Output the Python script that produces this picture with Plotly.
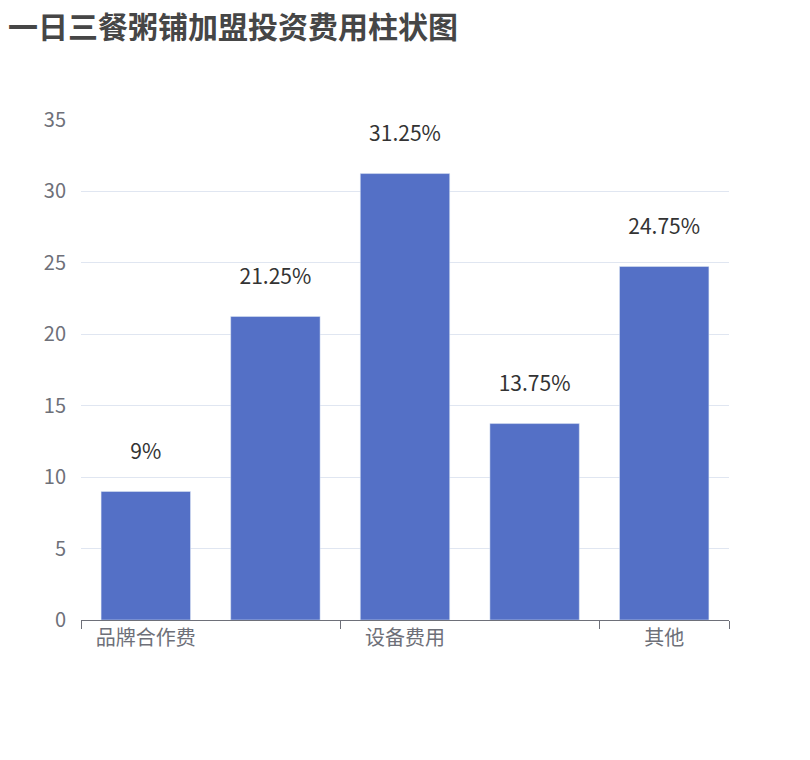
import plotly.graph_objects as go

categories = ["品牌合作费", "店面租金", "设备费用", "装修费用", "其他"]
values = [9, 21.25, 31.25, 13.75, 24.75]
labels = ["9%", "21.25%", "31.25%", "13.75%", "24.75%"]
shown_idx = [0, 2, 4]
boundaries = [-0.5, 1.5, 3.5, 4.5]

font = "Noto Sans CJK SC"
x = list(range(len(categories)))

fig = go.Figure()
fig.add_trace(go.Bar(x=x, y=values, text=[l + "<br><span style='font-size:6px'> </span>" for l in labels],
                     textposition="outside",
                     textfont=dict(size=21, color="#333333", family=font),
                     marker_color="#5470c6", width=0.69, cliponaxis=False,
                     hoverinfo="skip"))
fig.add_trace(go.Scatter(x=[-0.5, 4.5], y=[0, 0], xaxis="x2", mode="lines",
                         line=dict(width=0), showlegend=False, hoverinfo="skip"))
fig.update_layout(
    width=810, height=760, plot_bgcolor="white", paper_bgcolor="white",
    margin=dict(l=73, r=89, t=112, b=148), showlegend=False,
    title=dict(text="<b>一日三餐粥铺加盟投资费用柱状图</b>", x=0.0, xanchor="left",
               y=0.975, yanchor="middle", font=dict(size=30, color="#464646", family=font)),
    font=dict(family=font),
    xaxis=dict(range=[-0.5, 4.5], tickvals=shown_idx,
               ticktext=[categories[i] for i in shown_idx], ticks="",
               showgrid=False, zeroline=False, showline=True, linecolor="#6e7079",
               tickfont=dict(size=20, color="#6e7079")),
    xaxis2=dict(range=[-0.5, 4.5], overlaying="x", side="bottom", tickvals=boundaries,
                showticklabels=False, ticks="outside", ticklen=8, tickcolor="#6e7079",
                showgrid=False, zeroline=False, anchor="y"),
    yaxis=dict(range=[0, 35], dtick=5, gridcolor="#e0e6f1", zeroline=False,
               tickfont=dict(size=20, color="#6e7079"), ticks="", ticklen=0),
)
fig.update_yaxes(ticklabelstandoff=14)
fig.write_html("out.html")
